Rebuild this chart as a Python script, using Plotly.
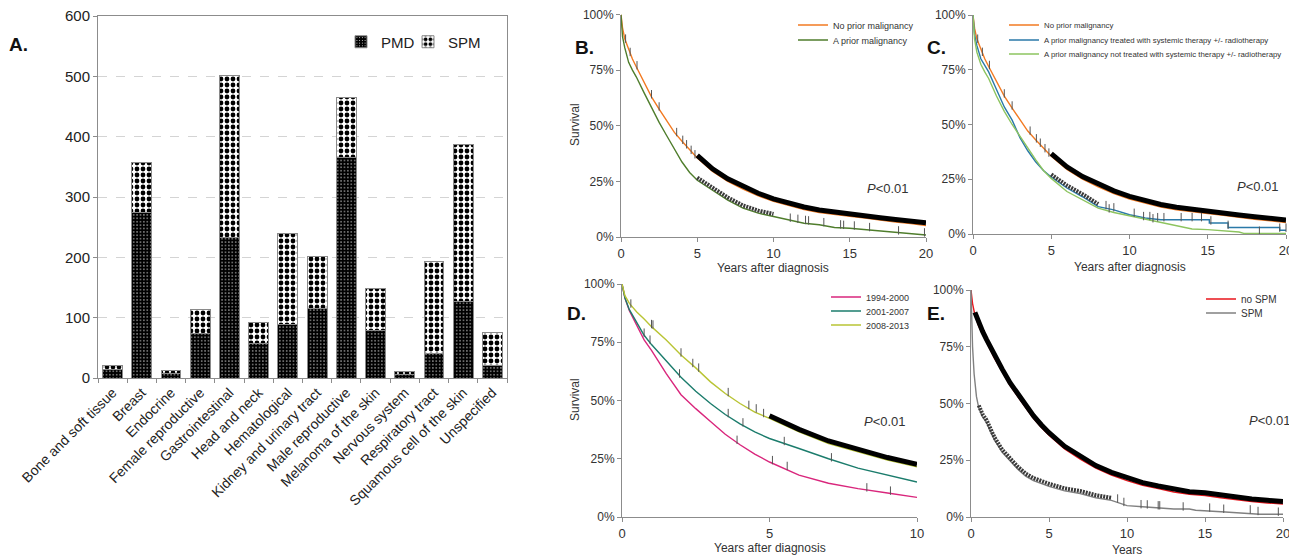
import plotly.graph_objects as go

# page is 1297x558; the page body has an 8px margin, so the figure starts at (8, 8)
PAGE_W, PAGE_H, BODY = 1297, 558, 8
W, H = PAGE_W - BODY, PAGE_H - BODY

# ---------------- Panel A data ----------------
categories = ["Bone and soft tissue", "Breast", "Endocrine", "Female reproductive",
              "Gastrointestinal", "Head and neck", "Hematological",
              "Kidney and urinary tract", "Male reproductive", "Melanoma of the skin",
              "Nervous system", "Respiratory tract", "Squamous cell of the skin",
              "Unspecified"]
pmd = [14, 275, 7, 73, 233, 58, 88, 115, 366, 79, 6, 40, 126, 20]
spm = [6, 82, 6, 40, 268, 34, 152, 86, 99, 69, 4, 153, 261, 56]
count_ticks = [0, 100, 200, 300, 400, 500, 600]

# ---------------- Panel B / C data ----------------
years_20 = [0, 0.1, 0.25, 0.5, 0.75, 1, 1.5, 2, 2.5, 3, 3.5, 4, 4.5, 5, 6, 7, 8, 9,
            10, 11, 12, 13, 14, 15, 16, 17, 18, 19, 20]
no_prior = [100, 94, 89, 84, 80, 76.5, 69.5, 63, 57.5, 52, 47, 43, 39, 35.5, 29.5, 25,
            21.5, 18.5, 16, 14, 12.3, 11, 10, 9.3, 8.5, 7.5, 6.7, 6, 5.2]
prior_malig = [100, 90, 85, 78.5, 75, 72, 65, 58, 51.5, 45.5, 39.6, 33.7, 29, 25.5, 21,
               16.6, 13, 10.7, 9.2, 7.7, 6.2, 5.5, 4.3, 3.9, 3.3, 2.4, 1.8, 1.5, 0.9]

treated_t = [0, 0.1, 0.25, 0.5, 0.75, 1, 1.5, 2, 2.5, 3, 3.5, 4, 4.5, 5, 6, 7, 8, 9, 10,
             11, 12, 15.1, 15.1, 16.3, 16.3, 19.6, 19.6, 20]
treated_s = [100, 91, 86, 80, 77, 74, 66, 58, 52, 44, 38, 33, 29, 26, 21, 17, 12.5, 11,
             8.8, 7.3, 6.5, 6.5, 5, 5, 3, 3, 1.7, 1.7]
untreated_t = [0, 0.1, 0.25, 0.5, 0.75, 1, 1.5, 2, 2.5, 3, 3.5, 4, 4.5, 5, 6, 7, 8, 9, 10,
               11, 12, 13, 14, 15, 16, 17, 17.3, 20]
untreated_s = [100, 89, 83, 77.5, 74, 71, 63, 56, 50, 44.5, 39, 34, 29, 25.4, 19.4, 15.6,
               11.8, 9.8, 8.3, 6.8, 5.3, 3.8, 2.3, 2, 1.5, 0.9, 0.3, 0.3]

# ---------------- Panel D data ----------------
years_10 = [0, 0.1, 0.25, 0.5, 0.75, 1, 1.5, 2, 2.5, 3, 3.5, 4, 4.5, 5, 6, 7, 8, 9, 10]
p1994 = [100, 94, 88.5, 82, 76, 71.5, 61.5, 52.5, 46.5, 41, 35.5, 31, 27, 23.6, 18, 14.5,
         12.2, 10.3, 8.4]
p2001 = [100, 94, 89, 83.5, 78, 74, 67, 60, 54, 48.7, 44, 40, 36.5, 33.7, 29.4, 25, 21,
         18, 15]
p2008 = [100, 95, 91.7, 88, 85, 81.7, 76, 69.5, 64, 58, 53, 48.7, 45, 42.3, 36.5, 31.5,
         28, 24.4, 21.5]

# ---------------- Panel E data ----------------
no_spm = [100, 94, 89, 84, 80.5, 77, 70, 64, 58, 53, 48, 43.5, 39.5, 36, 30, 25.5, 21.5,
          18.5, 16, 14, 12.5, 11, 10, 9.5, 8.5, 7.5, 6.8, 6.2, 5.7]
spm_t = [0, 0.05, 0.1, 0.2, 0.35, 0.5, 0.75, 1, 1.5, 2, 2.5, 3, 3.5, 4, 5, 6, 7, 8, 9, 10,
         11, 12, 13, 14, 14.4, 16.3, 18.5, 20]
spm_s = [100, 85, 75, 63, 53, 48, 44, 41.5, 34, 28.5, 24.5, 21, 18, 16, 13.5, 11.5, 10.3,
         8.5, 7.3, 5, 4.5, 4, 3.5, 3.5, 3, 2.2, 1.2, 1.2]

surv_ticks = [0, 25, 50, 75, 100]
surv_labels = ["0%", "25%", "50%", "75%", "100%"]

# ---------------- censoring marks ----------------
b_orange_cens_t = [0.3, 0.6, 1.05, 2.0, 2.5, 3.65, 4.05, 4.3, 4.6, 4.85]
b_orange_cens_s = [88, 82, 76, 63, 57.5, 46, 42.5, 40.5, 38, 36]
b_green_cens_t = [11.1, 11.6, 12.1, 12.3, 13.3, 14.4, 14.6, 15.3, 16.3, 18.2, 19.9]
b_green_cens_s = [7.5, 7.0, 6.5, 6.3, 5.5, 4.5, 4.3, 4.0, 3.3, 1.8, 0.9]
c_blue_cens_t = [8.5, 9.0, 10.3, 11.3, 11.8, 12.2, 13.3, 14.0, 14.6, 15.2, 16.3, 19.6, 20]
c_blue_cens_s = [12, 11, 8.5, 7, 6.5, 6.5, 6.5, 6.5, 6.5, 5, 3, 1.7, 1.7]
c_lgreen_cens_t = [8.7, 10.9, 11.5, 18.3]
c_lgreen_cens_s = [10.5, 7, 6, 0.3]
d_2008_cens_t = [0.3, 1.0, 1.05, 2.0, 2.4, 2.6, 3.6, 4.3, 4.55, 4.8]
d_2008_cens_s = [90.5, 81.7, 81.5, 69.5, 65, 63, 52.5, 47, 45.5, 43.5]
d_2001_cens_t = [0.75, 0.95, 1.95, 3.6, 4.1, 5.5, 7.1]
d_2001_cens_s = [78, 75, 60.5, 43.5, 39.5, 31.5, 24.5]
d_1994_cens_t = [3.9, 5.1, 5.6, 8.3, 9.1]
d_1994_cens_s = [32, 23.3, 20.8, 11.6, 10.2]
e_spm_cens_t = [9.4, 9.8, 10.9, 11.3, 12.0, 12.1, 13.6, 15.3, 16.2, 17.9, 18.4, 19.7]
e_spm_cens_s = [7, 5.5, 4.5, 4.4, 4, 4, 3.5, 3, 2.5, 2.2, 1.5, 1.2]


def px_x(p):
    return (p - BODY) / W


def px_y(p):
    return 1 - (p - BODY) / H


fig = go.Figure()

# ---------------- Panel A ----------------
fig.add_trace(go.Bar(
    x=categories, y=pmd, name="PMD", xaxis="x", yaxis="y", legend="legend",
    marker=dict(color="black", line=dict(color="#8a8a8a", width=1),
                pattern=dict(shape=".", fgcolor="white", bgcolor="black",
                             size=3.4, solidity=0.12, fillmode="replace")),
))
fig.add_trace(go.Bar(
    x=categories, y=spm, name="SPM", xaxis="x", yaxis="y", legend="legend12",
    marker=dict(color="white", line=dict(color="#8a8a8a", width=1),
                pattern=dict(shape=".", fgcolor="black", bgcolor="white",
                             size=6, solidity=0.5, fillmode="replace")),
))

# panel key -> (x px range, (bottom px, top px), x range, x ticks, overlay axis for marks)
km_boxes = {
    "2": ((621, 926), (237, 14.5), [0, 20], [0, 5, 10, 15, 20], "6"),
    "3": ((973, 1286), (234, 15), [0, 20], [0, 5, 10, 15, 20], "7"),
    "4": ((622, 917), (517, 284), [0, 10], [0, 5, 10], "8"),
    "5": ((971, 1283), (517, 290), [0, 20], [0, 5, 10, 15, 20], "9"),
}
MARK_LIFT_PX = 2.6   # censor marks rise above the curve, as in the reference


def km_curve(t, s, color, name, ax, leg, width=1.4):
    fig.add_trace(go.Scatter(x=t, y=s, mode="lines", name=name,
                             line=dict(color=color, width=width),
                             xaxis="x" + ax, yaxis="y" + ax, legend=leg,
                             hoverinfo="skip"))


def km_band(t, s, start, stop, color, ax, width=5, dash="solid"):
    tt = [a for a in t if start <= a <= stop]
    ss = [b for a, b in zip(t, s) if start <= a <= stop]
    fig.add_trace(go.Scatter(x=tt, y=ss, mode="lines",
                             line=dict(color=color, width=width, dash=dash),
                             xaxis="x" + ax, yaxis="y" + km_boxes[ax][4],
                             showlegend=False, hoverinfo="skip"))


def km_cens(t, s, ax, color="#555"):
    fig.add_trace(go.Scatter(x=t, y=s, mode="markers",
                             marker=dict(symbol="line-ns-open", size=6, color=color,
                                         line=dict(width=1, color=color)),
                             xaxis="x" + ax, yaxis="y" + km_boxes[ax][4],
                             showlegend=False, hoverinfo="skip", cliponaxis=False))


ORANGE = "#f27a22"
GREEN_B = "#4f7d2c"
BLUE = "#2a79a8"
LGREEN = "#8dc45f"
MAGENTA = "#d9267c"
TEAL = "#1b7c6c"
YGREEN = "#b9c434"
RED = "#e8151b"
GRAY = "#808080"

# ---------------- Panel B ----------------
km_curve(years_20, no_prior, ORANGE, "No prior malignancy", "2", "legend2")
km_curve(years_20, prior_malig, GREEN_B, "A prior malignancy", "2", "legend3")
km_band(years_20, prior_malig, 5, 10, "#3a3a3a", "2", width=4, dash="2px,1px")
km_band(years_20, no_prior, 5, 20, "black", "2", width=5)
km_cens(b_orange_cens_t, b_orange_cens_s, "2")
km_cens(b_green_cens_t, b_green_cens_s, "2")

# ---------------- Panel C ----------------
km_curve(years_20, no_prior, ORANGE, "No prior malignancy", "3", "legend4")
km_curve(treated_t, treated_s, BLUE,
         "A prior malignancy treated with systemic therapy +/- radiotherapy", "3", "legend5")
km_curve(untreated_t, untreated_s, LGREEN,
         "A prior malignancy not treated with systemic therapy +/- radiotherapy", "3", "legend6")
km_band(treated_t, treated_s, 5, 8, "#3a3a3a", "3", width=4, dash="2px,1px")
km_band(years_20, no_prior, 5, 20, "black", "3", width=5)
km_cens(b_orange_cens_t, b_orange_cens_s, "3")
km_cens(c_blue_cens_t, c_blue_cens_s, "3")
km_cens(c_lgreen_cens_t, c_lgreen_cens_s, "3")

# ---------------- Panel D ----------------
km_curve(years_10, p1994, MAGENTA, "1994-2000", "4", "legend7")
km_curve(years_10, p2001, TEAL, "2001-2007", "4", "legend8")
km_curve(years_10, p2008, YGREEN, "2008-2013", "4", "legend9")
km_band(years_10, p2008, 5, 10, "black", "4", width=5)
km_cens(d_2008_cens_t, d_2008_cens_s, "4")
km_cens(d_2001_cens_t, d_2001_cens_s, "4")
km_cens(d_1994_cens_t, d_1994_cens_s, "4")

# ---------------- Panel E ----------------
km_curve(years_20, no_spm, RED, "no SPM", "5", "legend10")
km_curve(spm_t, spm_s, GRAY, "SPM", "5", "legend11")
km_band(years_20, no_spm, 0.25, 20, "black", "5", width=5)
km_band(spm_t, spm_s, 0.5, 9, "#3a3a3a", "5", width=4, dash="2px,1px")
km_cens(e_spm_cens_t, e_spm_cens_s, "5")

# ---------------- Axes ----------------
FONT = "Liberation Sans, Arial, sans-serif"
axis_gray = "#8c8c8c"

layout = dict(
    width=W, height=H, margin=dict(l=0, r=0, t=0, b=0, autoexpand=False),
    paper_bgcolor="white", plot_bgcolor="white",
    font=dict(family=FONT, color="#222"),
    barmode="stack", bargap=0.32,
    xaxis=dict(domain=[px_x(98), px_x(507)], anchor="y", tickangle=-45,
               tickfont=dict(size=14, color="#222"), ticks="outside", ticklen=4,
               tickson="boundaries", tickcolor=axis_gray, showline=True,
               linecolor=axis_gray, mirror=True, showgrid=False, automargin=False,
               ticklabeloverflow="allow"),
    yaxis=dict(domain=[px_y(378), px_y(16)], anchor="x", range=[0, 600],
               tickvals=count_ticks,
               tickfont=dict(size=15, color="#222"), ticks="outside", ticklen=4,
               tickcolor=axis_gray, showline=True, linecolor=axis_gray, mirror=True,
               showgrid=True, gridcolor="#d4d4d4", griddash="dash", zeroline=False,
               automargin=False, ticklabeloverflow="allow"),
)

for ax, ((x0, x1), (yb, yt), xr, xt, ov) in km_boxes.items():
    layout["xaxis" + ax] = dict(domain=[px_x(x0), px_x(x1)], anchor="y" + ax, range=xr,
                               tickvals=xt, ticks="outside", ticklen=4,
                               tickcolor=axis_gray, showline=True, linecolor=axis_gray,
                               showgrid=False, zeroline=False, automargin=False,
                               ticklabeloverflow="allow",
                               tickfont=dict(size=13, color="#333"))
    layout["yaxis" + ax] = dict(domain=[px_y(yb), px_y(yt)], anchor="x" + ax,
                               range=[0, 100], tickvals=surv_ticks, ticktext=surv_labels,
                               ticks="outside", ticklen=4,
                               tickcolor=axis_gray, showline=True, linecolor=axis_gray,
                               showgrid=False, zeroline=False, automargin=False,
                               ticklabeloverflow="allow",
                               tickfont=dict(size=12, color="#333"))
    lift = MARK_LIFT_PX * 100.0 / (yb - yt)
    layout["yaxis" + ov] = dict(overlaying="y" + ax, anchor="x" + ax,
                               range=[-lift, 100 - lift], visible=False,
                               automargin=False)

# one legend per entry: (legend id, text start px, centre y px, font size)
legend_spots = [
    ("legend", 380, 42, 15), ("legend12", 447, 42, 15),
    ("legend2", 832, 25, 9), ("legend3", 832, 40, 9),
    ("legend4", 1043, 25, 7.8), ("legend5", 1043, 40, 7.8), ("legend6", 1043, 54, 7.8),
    ("legend7", 865, 297, 9), ("legend8", 865, 311, 9), ("legend9", 865, 325, 9),
    ("legend10", 1240, 299, 10), ("legend11", 1240, 313, 10),
]
for name, tx, cy, fs in legend_spots:
    layout[name] = dict(x=px_x(tx - 39), y=px_y(cy), xanchor="left", yanchor="middle",
                        bgcolor="rgba(0,0,0,0)", itemwidth=30,
                        font=dict(size=fs, color="#222" if fs > 12 else "#333"))

fig.update_layout(**layout)


# ---------------- Annotations ----------------
def ann(text, x, y, size=12, bold=False, angle=0, color="#333"):
    fig.add_annotation(text=("<b>%s</b>" % text) if bold else text,
                       x=px_x(x), y=px_y(y), xref="paper", yref="paper",
                       showarrow=False, textangle=angle,
                       font=dict(size=size, color=color, family=FONT),
                       xanchor="center", yanchor="middle")


ann("A.", 18, 45, size=19, bold=True, color="#111")
ann("B.", 584, 47, size=19, bold=True, color="#111")
ann("C.", 936, 47, size=19, bold=True, color="#111")
ann("D.", 576, 313, size=19, bold=True, color="#111")
ann("E.", 936, 313, size=19, bold=True, color="#111")

ann("Years after diagnosis", 773, 268, size=12)
ann("Years after diagnosis", 1130, 267, size=12)
ann("Years after diagnosis", 770, 548, size=12)
ann("Years", 1127, 550, size=12)
ann("Survival", 575, 125, size=12, angle=-90)
ann("Survival", 575, 400, size=12, angle=-90)

ann("<i>P</i>&lt;0.01", 888, 188, size=13)
ann("<i>P</i>&lt;0.01", 1258, 186, size=13)
ann("<i>P</i>&lt;0.01", 885, 421, size=13)
ann("<i>P</i>&lt;0.01", 1270, 420, size=13)

fig.write_html("out.html")
